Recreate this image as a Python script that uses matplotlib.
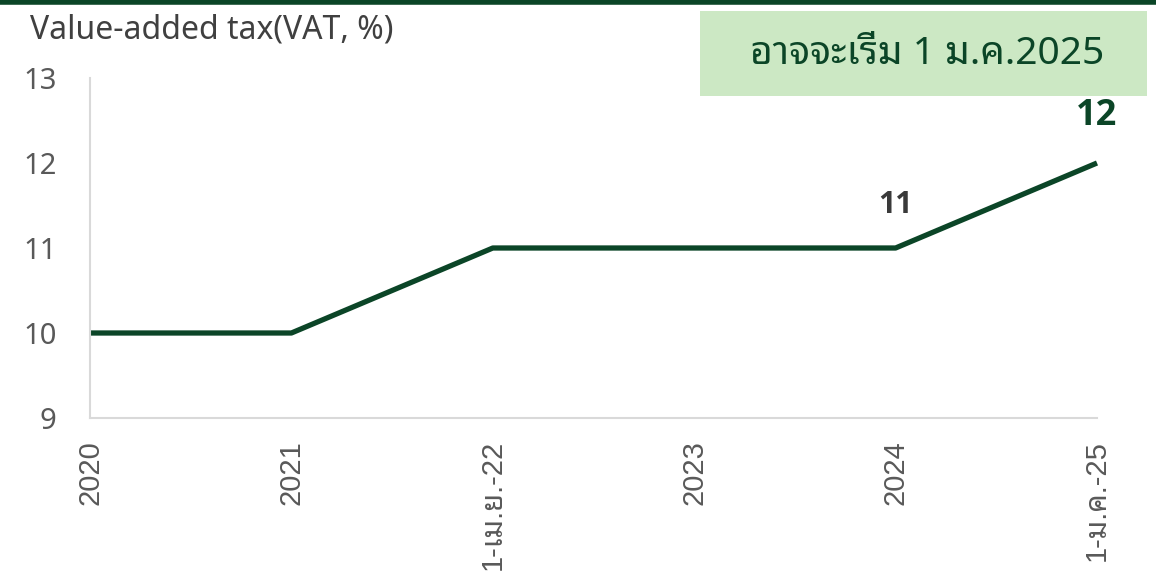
import matplotlib
matplotlib.use("Agg")
import matplotlib.pyplot as plt
from matplotlib.patches import Rectangle

categories = ["2020", "2021", "1-เม.ย.-22", "2023", "2024", "1-ม.ค.-25"]
vat_rate = [10, 10, 11, 11, 11, 12]

GREEN = "#0b4527"
GRAY = "#595959"
THAI = "Noto Sans Thai Looped"

plt.rcParams["font.family"] = ["Noto Sans", THAI, "DejaVu Sans"]

fig = plt.figure(figsize=(11.56, 5.79), dpi=100)
ax = fig.add_axes([90 / 1156, 1 - 418 / 579, (1097 - 90) / 1156, 340 / 579])

x = list(range(len(categories)))
ax.plot(x, vat_rate, color=GREEN, lw=3.8, solid_capstyle="butt", clip_on=False)
ax.set_xlim(0, len(categories) - 1)
ax.set_ylim(9, 13)
ax.set_yticks([9, 10, 11, 12, 13])
ax.set_xticks(x)
ax.set_xticklabels(categories, rotation=90, fontsize=21, color=GRAY,
                   family=["Liberation Sans", THAI])
ax.tick_params(axis="y", labelsize=21, labelcolor=GRAY, length=0, pad=24)
ax.tick_params(axis="x", length=0, pad=16)
for s in ["top", "right"]:
    ax.spines[s].set_visible(False)
for s in ["left", "bottom"]:
    ax.spines[s].set_color("#d9d9d9")
    ax.spines[s].set_linewidth(1.5)

ax.annotate(str(vat_rate[4]), (4, vat_rate[4]), xytext=(0, 20), textcoords="offset points",
            ha="center", va="bottom", fontsize=22, fontweight="bold", color="#3a3a3a",
            family=["Open Sans"])
ax.annotate(str(vat_rate[5]), (5, vat_rate[5]), xytext=(0, 21), textcoords="offset points",
            ha="center", va="bottom", fontsize=26, fontweight="bold", color=GREEN,
            family=["Open Sans"])

fig.text(30 / 1156, 1 - 30 / 579, "Value-added tax(VAT, %)", fontsize=23, color="#404040", va="center")

fig.add_artist(Rectangle((700 / 1156, 1 - 96 / 579), 447 / 1156, 85 / 579,
                         transform=fig.transFigure, fc="#cce8c4", ec="none"))
fig.text(927 / 1156, 1 - 54 / 579, "อาจจะเริ่ม 1 ม.ค.2025", fontsize=28, color=GREEN,
         ha="center", va="center", family=[THAI, "Noto Sans"])
fig.add_artist(plt.Line2D([0, 1], [1 - 2 / 579, 1 - 2 / 579], color=GREEN, lw=4,
                          transform=fig.transFigure))

fig.savefig("out.png", dpi=100)
